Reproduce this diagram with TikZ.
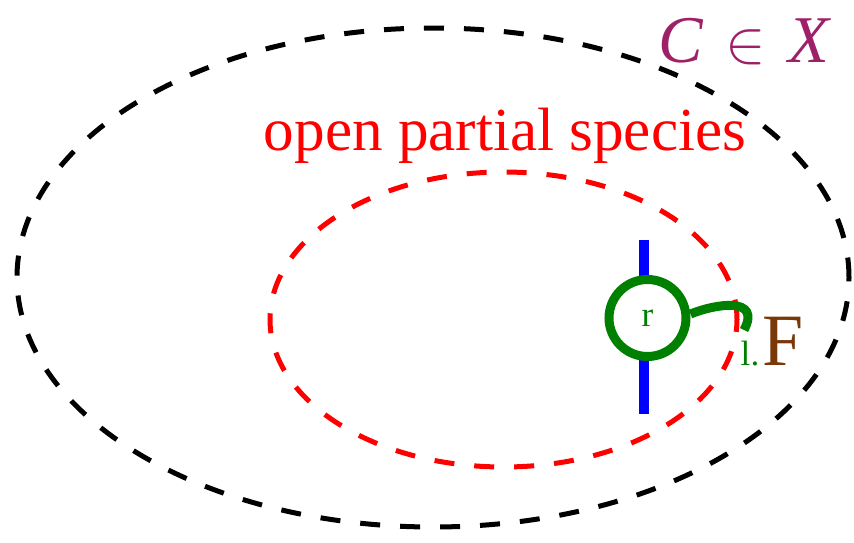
\documentclass[tikz,border=0pt]{standalone}
\usepackage{fontspec}
\setmainfont{Liberation Serif}
\usepackage{tikz}
\usetikzlibrary{positioning}
\definecolor{catpurple}{RGB}{158,32,104}
\definecolor{spgreen}{RGB}{0,128,0}
\definecolor{fbrown}{RGB}{122,56,8}
\tikzstyle{bigdash} = [dash pattern=on 0.2cm off 0.2cm, line width=0.05cm]
\tikzstyle{ringNode} = [
                circle,
                minimum size = 0.77cm,
                inner sep=0pt,
                draw=spgreen,
                line width=0.09cm,
                text=spgreen,
                font=\fontsize{10}{12}\selectfont
            ]
\begin{document}
\begin{tikzpicture}
  \useasboundingbox (0,0) rectangle (8.54,5.42);
  % the two regions
  \draw [bigdash, black] (4.33,2.645) ellipse [x radius=4.16, y radius=2.495];
  \draw [bigdash, red] (5.035,2.225) ellipse [x radius=2.335, y radius=1.475];
  \node (cx) [anchor=base, inner sep=0pt, text=catpurple, font=\fontsize{19}{22}\selectfont] at (7.45,4.80) {\textit{C}\,\,$\in$\,\,\textit{X}};
  \node (ops) [anchor=base, text=red, font=\fontsize{17.4}{20}\selectfont] at (5.05,3.92) {open partial species};
  % the species
  \coordinate (btop) at (6.44,3.02);
  \coordinate (bbot) at (6.44,1.28);
  \draw [blue, line width=0.1cm] (btop) -- (bbot);
  \node (ring) [ringNode, fill=white] at (6.475,2.24) {r};
  \coordinate (lend) at (7.44,2.12);
  \draw [spgreen, line width=0.09cm] (ring.east) ++(0,0.04) .. controls (7.15,2.38) and (7.62,2.46) .. (lend);
  \node (lbl) [text=spgreen, font=\fontsize{10}{12}\selectfont] at (7.50,1.88) {l.};
  \node (F) [text=fbrown, font=\fontsize{21}{24}\selectfont] at (7.83,2.01) {F};
\end{tikzpicture}
\end{document}
